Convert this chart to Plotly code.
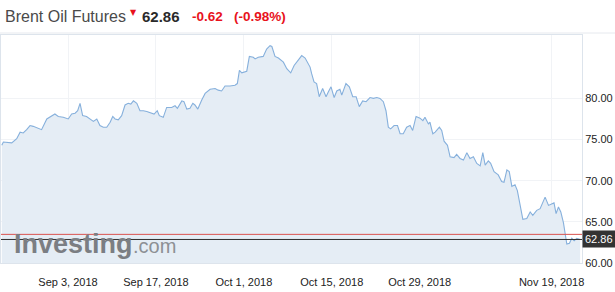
import plotly.graph_objects as go

# ---- data ----
dates = [
    "2018-08-23 11:00", "2018-08-23 17:00", "2018-08-25 01:00", "2018-08-25 20:00",
    "2018-08-26 09:00", "2018-08-26 21:00", "2018-08-27 10:00", "2018-08-27 23:00",
    "2018-08-28 11:00", "2018-08-29 00:00", "2018-08-29 19:00", "2018-08-30 15:00",
    "2018-08-31 03:00", "2018-08-31 22:00", "2018-09-01 11:00", "2018-09-02 06:00",
    "2018-09-03 01:00", "2018-09-03 14:00", "2018-09-04 03:00", "2018-09-04 13:00",
    "2018-09-04 22:00", "2018-09-05 08:00", "2018-09-05 23:00", "2018-09-06 12:00",
    "2018-09-07 01:00", "2018-09-07 14:00", "2018-09-08 02:00", "2018-09-08 15:00",
    "2018-09-09 04:00", "2018-09-09 17:00", "2018-09-10 03:00", "2018-09-10 12:00",
    "2018-09-11 00:00", "2018-09-11 13:00", "2018-09-12 02:00", "2018-09-12 14:00",
    "2018-09-13 00:00", "2018-09-13 10:00", "2018-09-13 23:00", "2018-09-14 11:00",
    "2018-09-15 00:00", "2018-09-15 13:00", "2018-09-16 01:00", "2018-09-16 17:00",
    "2018-09-17 05:00", "2018-09-17 13:00", "2018-09-18 04:00", "2018-09-18 17:00",
    "2018-09-19 12:00", "2018-09-20 01:00", "2018-09-20 10:00", "2018-09-21 03:00",
    "2018-09-21 11:00", "2018-09-21 22:00", "2018-09-22 10:00", "2018-09-22 21:00",
    "2018-09-23 05:00", "2018-09-23 16:00", "2018-09-24 07:00", "2018-09-24 20:00",
    "2018-09-25 15:00", "2018-09-26 10:00", "2018-09-26 22:00", "2018-09-27 11:00",
    "2018-09-28 00:00", "2018-09-28 19:00", "2018-09-29 14:00", "2018-09-29 23:00",
    "2018-09-30 07:00", "2018-09-30 16:00", "2018-10-01 11:00", "2018-10-01 21:00",
    "2018-10-02 12:00", "2018-10-02 19:00", "2018-10-03 07:00", "2018-10-04 02:00",
    "2018-10-04 15:00", "2018-10-05 04:00", "2018-10-05 11:00", "2018-10-05 23:00",
    "2018-10-06 12:00", "2018-10-07 07:00", "2018-10-07 20:00", "2018-10-08 11:00",
    "2018-10-09 00:00", "2018-10-09 16:00", "2018-10-10 05:00", "2018-10-10 18:00",
    "2018-10-11 13:00", "2018-10-11 19:00", "2018-10-12 04:00", "2018-10-12 14:00",
    "2018-10-13 00:00", "2018-10-13 13:00", "2018-10-14 02:00", "2018-10-14 11:00",
    "2018-10-14 21:00", "2018-10-15 09:00", "2018-10-15 19:00", "2018-10-16 07:00",
    "2018-10-16 14:00", "2018-10-17 06:00", "2018-10-17 19:00", "2018-10-18 08:00",
    "2018-10-18 21:00", "2018-10-19 09:00", "2018-10-19 22:00", "2018-10-20 11:00",
    "2018-10-21 02:00", "2018-10-21 15:00", "2018-10-22 04:00", "2018-10-22 16:00",
    "2018-10-23 05:00", "2018-10-23 15:00", "2018-10-24 00:00", "2018-10-24 09:00",
    "2018-10-24 22:00", "2018-10-25 11:00", "2018-10-25 21:00", "2018-10-26 09:00",
    "2018-10-26 22:00", "2018-10-27 11:00", "2018-10-27 21:00", "2018-10-28 10:00",
    "2018-10-29 01:00", "2018-10-29 12:00", "2018-10-29 20:00", "2018-10-30 09:00",
    "2018-10-30 15:00", "2018-10-31 02:00", "2018-10-31 11:00", "2018-11-01 03:00",
    "2018-11-01 12:00", "2018-11-01 21:00", "2018-11-02 10:00", "2018-11-02 20:00",
    "2018-11-03 11:00", "2018-11-03 21:00", "2018-11-04 10:00", "2018-11-04 23:00",
    "2018-11-05 12:00", "2018-11-06 00:00", "2018-11-06 13:00", "2018-11-07 02:00",
    "2018-11-07 15:00", "2018-11-08 01:00", "2018-11-08 10:00", "2018-11-08 22:00",
    "2018-11-09 07:00", "2018-11-09 20:00", "2018-11-10 12:00", "2018-11-11 01:00",
    "2018-11-11 10:00", "2018-11-11 21:00", "2018-11-12 06:00", "2018-11-12 16:00",
    "2018-11-13 04:00", "2018-11-13 13:00", "2018-11-13 23:00", "2018-11-14 10:00",
    "2018-11-15 01:00", "2018-11-15 14:00", "2018-11-16 00:00", "2018-11-16 15:00",
    "2018-11-17 04:00", "2018-11-17 14:00", "2018-11-17 23:00", "2018-11-18 12:00",
    "2018-11-19 00:00", "2018-11-19 09:00", "2018-11-19 17:00", "2018-11-20 02:00",
    "2018-11-20 11:00", "2018-11-20 21:00", "2018-11-21 10:00", "2018-11-21 20:00",
    "2018-11-22 05:00", "2018-11-22 14:00", "2018-11-23 00:00", "2018-11-23 13:00",
]
prices = [
    74.3, 74.7, 74.6, 75.1, 75.9, 75.8, 76.2, 76.7,
    76.6, 76.4, 76.2, 77.5, 77.7, 78.1, 77.8, 77.7,
    77.5, 78.1, 78.2, 78.5, 79.4, 77.9, 77.8, 77.5,
    77.2, 77.5, 76.7, 76.5, 76.5, 77.1, 77.8, 77.5,
    77.4, 77.9, 79.2, 79.4, 79.3, 79.7, 79.4, 78.5,
    78.5, 78.4, 78.3, 78.1, 78.5, 77.9, 77.7, 78.9,
    78.9, 79.1, 78.8, 79.7, 79.6, 78.7, 78.8, 79.4,
    79.2, 78.7, 79.8, 80.6, 81.1, 81.2, 81.0, 80.9,
    81.5, 81.5, 81.6, 81.8, 83.4, 83.1, 83.3, 85.1,
    85.0, 84.8, 85.0, 85.1, 86.0, 86.4, 86.3, 85.1,
    84.9, 84.4, 83.6, 83.1, 84.0, 84.6, 85.2, 84.9,
    83.8, 83.0, 82.0, 81.8, 80.2, 81.2, 80.2, 80.8,
    81.4, 80.1, 80.9, 81.1, 80.4, 81.8, 81.4, 80.2,
    80.2, 79.0, 79.7, 79.6, 80.1, 80.0, 80.1, 80.0,
    79.6, 78.5, 76.5, 76.3, 76.7, 76.7, 75.7, 75.7,
    76.5, 76.7, 76.1, 77.8, 77.6, 77.3, 77.7, 76.9,
    77.1, 75.7, 75.9, 76.5, 76.1, 74.8, 74.3, 72.9,
    72.8, 73.2, 72.7, 72.5, 73.4, 72.7, 72.9, 72.1,
    71.8, 73.4, 71.9, 72.4, 72.1, 71.1, 70.7, 69.9,
    69.8, 71.3, 71.1, 69.3, 69.5, 68.8, 67.2, 65.3,
    65.4, 66.2, 65.8, 66.4, 66.6, 67.3, 68.0, 67.0,
    67.2, 67.3, 66.0, 66.8, 66.2, 64.9, 62.3, 62.4,
    63.0, 62.7, 63.0, 62.86,
]
x_tick_dates = ["2018-09-03", "2018-09-17", "2018-10-01",
                "2018-10-15", "2018-10-29", "2018-11-19"]
x_tick_labels = ["Sep 3, 2018", "Sep 17, 2018", "Oct 1, 2018",
                 "Oct 15, 2018", "Oct 29, 2018", "Nov 19, 2018"]
y_ticks = [60, 65, 70, 75, 80]
x_range = ["2018-08-23 08:00", "2018-11-23 20:00"]
y_range = [60, 87.7]

instrument = "Brent Oil Futures"
last_price = 62.86
prev_close = 63.48
change = "-0.62"
change_pct = "(-0.98%)"

FONT = "Liberation Sans, Arial, sans-serif"

fig = go.Figure()
fig.add_trace(go.Scatter(
    x=dates, y=prices, mode="lines",
    line=dict(color="#86b0dc", width=1.1),
    fill="tozeroy", fillcolor="#e5edf5",
    hoverinfo="skip", showlegend=False,
))

fig.add_hline(y=prev_close, line=dict(color="#d9534f", width=1))
fig.add_hline(y=last_price, line=dict(color="#2b2b2b", width=1))

fig.update_layout(
    width=615, height=292,
    margin=dict(l=1, r=33, t=35, b=29),
    paper_bgcolor="white", plot_bgcolor="white",
    showlegend=False,
    font=dict(family=FONT, size=11, color="#222"),
    xaxis=dict(
        type="date", range=x_range,
        tickvals=x_tick_dates, ticktext=x_tick_labels,
        showgrid=True, gridcolor="#f1f3f6", gridwidth=1,
        showline=True, linecolor="#dde4ec", mirror=True,
        ticks="outside", ticklen=9, tickcolor="rgba(0,0,0,0)",
        zeroline=False,
        tickfont=dict(family=FONT, size=11, color="#222"),
    ),
    yaxis=dict(
        side="right", range=y_range,
        tickvals=y_ticks, tickformat=".2f",
        showgrid=True, gridcolor="#f1f3f6", gridwidth=1,
        showline=True, linecolor="#dde4ec", mirror=True,
        ticks="", zeroline=False,
        tickfont=dict(family=FONT, size=11, color="#222"),
    ),
)

# header texts (pixel positions converted to paper coords)
def py(ypix):
    return (263 - ypix) / 228.0

def px(xpix):
    return (xpix - 1) / 581.0

hdr = [
    dict(text=instrument, x=px(3), y=py(17), font=dict(family=FONT, size=16, color="#4a4a4a")),
    dict(text="▼", x=px(128), y=py(12), font=dict(family="DejaVu Sans", size=8, color="#e8121c")),
    dict(text="<b>%.2f</b>" % last_price, x=px(140), y=py(17), font=dict(family=FONT, size=15, color="#2a2a2a")),
    dict(text="<b>%s</b>" % change, x=px(190), y=py(17), font=dict(family=FONT, size=13.5, color="#e8121c")),
    dict(text="<b>%s</b>" % change_pct, x=px(232), y=py(17), font=dict(family=FONT, size=13.5, color="#e8121c")),
    dict(text="<b>Investing</b>", x=px(12), y=py(244), font=dict(family=FONT, size=27, color="#7b7e83")),
    dict(text=".com", x=px(131), y=py(246), font=dict(family=FONT, size=20, color="#8d9094")),
]
anns = []
for a in hdr:
    a.update(xref="paper", yref="paper", xanchor="left", yanchor="middle", showarrow=False)
    anns.append(a)

anns.append(dict(
    text="%.2f" % last_price, x=1.0, xref="paper", y=last_price, yref="y",
    xanchor="left", yanchor="middle", showarrow=False,
    bgcolor="#333333", borderpad=2,
    font=dict(family=FONT, size=11, color="white"),
))
fig.update_layout(annotations=anns)

# thin separator under header
fig.add_shape(type="line", xref="paper", yref="paper", x0=-0.01, x1=1.06, y0=py(33), y1=py(33),
              line=dict(color="#e6e9ee", width=1))

fig.write_html("out.html")
